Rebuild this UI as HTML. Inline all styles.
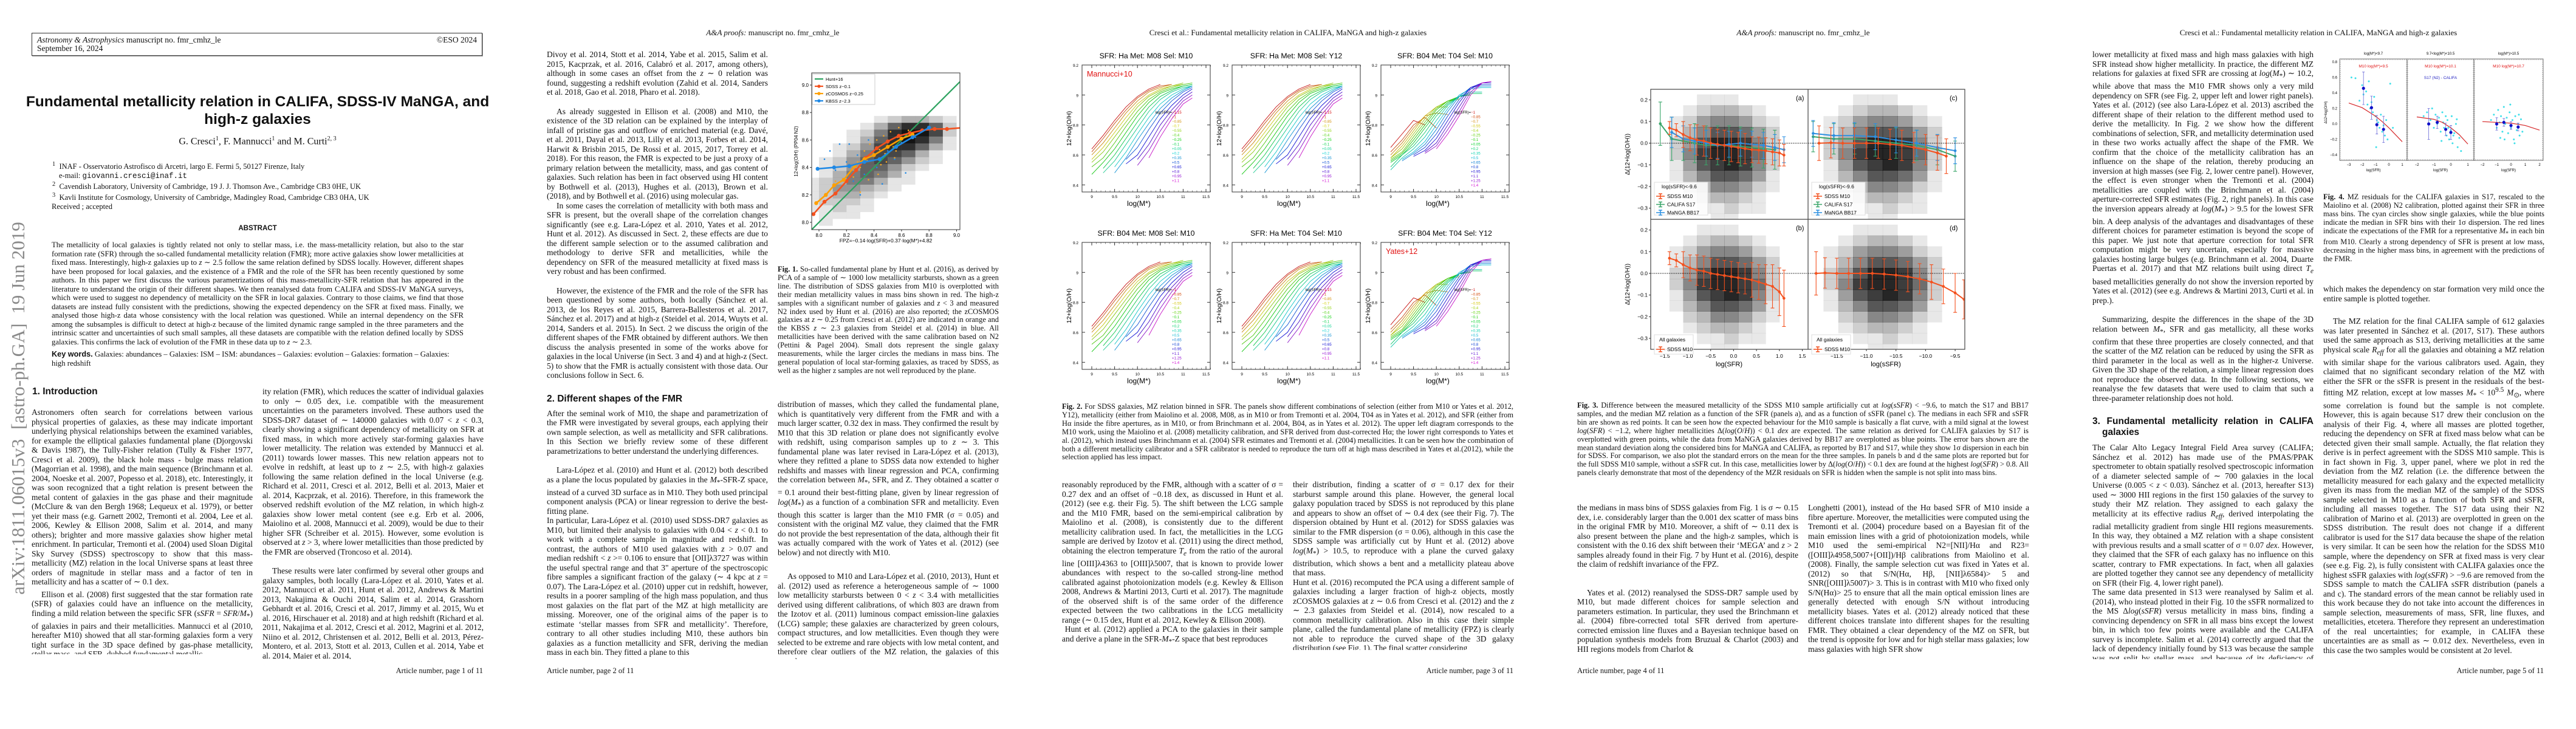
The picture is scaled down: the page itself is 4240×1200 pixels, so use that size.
<!DOCTYPE html>
<html><head><meta charset="utf-8">
<style>
*{margin:0;padding:0;box-sizing:border-box}
body{width:4240px;height:1200px;background:#fff;position:relative;overflow:hidden;font-family:"Liberation Serif",serif;color:#111}
.page{position:absolute;top:0;width:848px;height:1200px;overflow:hidden}
.abs{position:absolute}
.col{position:absolute;width:364px;font-size:13.5px;line-height:15.5px;text-align:justify;overflow:hidden;hyphens:auto}
.col p{text-indent:0}
.col p.ind{text-indent:16px}
.gap{margin-top:16px}
.hdr{position:absolute;top:46px;left:0;width:848px;text-align:center;font-size:13px}
.pnum{position:absolute;top:1097px;font-size:12.5px}
h2{font-family:"Liberation Sans",sans-serif;font-size:15.5px;font-weight:bold;line-height:18px}
.cap{position:absolute;font-size:12.4px;line-height:13.9px;text-align:justify;overflow:hidden}
svg text{font-family:"Liberation Sans",sans-serif}
</style></head><body>

<!-- PAGE 1 -->
<div class="page" style="left:0">
 <div class="abs" style="left:52px;top:54px;width:742px;height:38px;border:1.3px solid #333;box-shadow:1px 1px 0 #aaa;font-size:13.5px;line-height:14px;padding:4px 8px">
  <div><i>Astronomy &amp; Astrophysics</i> manuscript no. fmr_cmhz_le<span style="float:right">©ESO 2024</span></div>
  <div>September 16, 2024</div>
 </div>
 <div class="abs" style="left:40px;top:153px;width:768px;text-align:center;font-family:'Liberation Sans',sans-serif;font-weight:bold;font-size:24.5px;line-height:29px">Fundamental metallicity relation in CALIFA, SDSS-IV MaNGA, and high-z galaxies</div>
 <div class="abs" style="left:0;top:223px;width:848px;text-align:center;font-size:16px">G. Cresci<sup style="font-size:10px">1</sup>, F. Mannucci<sup style="font-size:10px">1</sup> and M. Curti<sup style="font-size:10px">2, 3</sup></div>
 <div class="abs" style="left:86px;top:264px;font-size:12.5px;line-height:14.5px">
  <div><sup>1</sup>&nbsp; INAF - Osservatorio Astrofisco di Arcetri, largo E. Fermi 5, 50127 Firenze, Italy</div>
  <div style="padding-left:11px">e-mail: <span style="font-family:'Liberation Mono',monospace">giovanni.cresci@inaf.it</span></div>
  <div><sup>2</sup>&nbsp; Cavendish Laboratory, University of Cambridge, 19 J. J. Thomson Ave., Cambridge CB3 0HE, UK</div>
  <div><sup>3</sup>&nbsp; Kavli Institute for Cosmology, University of Cambridge, Madingley Road, Cambridge CB3 0HA, UK</div>
 </div>
 <div class="abs" style="left:85px;top:333px;font-size:12.5px">Received ; accepted</div>
 <div class="abs" style="left:0;top:370px;width:848px;text-align:center;font-family:'Liberation Sans',sans-serif;font-weight:bold;font-size:11.5px">ABSTRACT</div>
 <div class="abs" style="left:85px;top:396px;width:678px;font-size:12.7px;line-height:14.5px;text-align:justify">The metallicity of local galaxies is tightly related not only to stellar mass, i.e. the mass-metallicity relation, but also to the star formation rate (SFR) through the so-called fundamental metallicity relation (FMR); more active galaxies show lower metallicities at fixed mass. Interestingly, high-z galaxies up to <i>z</i> ∼ 2.5 follow the same relation defined by SDSS locally. However, different shapes have been proposed for local galaxies, and the existence of a FMR and the role of the SFR has been recently questioned by some authors. In this paper we first discuss the various parametrizations of this mass-metallicity-SFR relation that has appeared in the literature to understand the origin of their different shapes. We then reanalysed data from CALIFA and SDSS-IV MaNGA surveys, which were used to suggest no dependency of metallicity on the SFR in local galaxies. Contrary to those claims, we find that those datasets are instead fully consistent with the predictions, showing the expected dependency on the SFR at fixed mass. Finally, we analysed those high-z data whose consistency with the local relation was questioned. While an internal dependency on the SFR among the subsamples is difficult to detect at high-z because of the limited dynamic range sampled in the three parameters and the intrinsic scatter and uncertainties of such small samples, all these datasets are compatible with the relation defined locally by SDSS galaxies. This confirms the lack of evolution of the FMR in these data up to <i>z</i> ∼ 2.3.</div>
 <div class="abs" style="left:85px;top:576px;width:678px;font-size:12.7px;line-height:14.5px"><b style="font-family:'Liberation Sans',sans-serif">Key words.</b> Galaxies: abundances – Galaxies: ISM – ISM: abundances – Galaxies: evolution – Galaxies: formation – Galaxies: high redshift</div>
 <div class="abs" style="left:30px;top:672px;width:0;height:0"><div style="position:absolute;left:-330px;top:-18px;width:660px;text-align:center;transform:rotate(-90deg);font-size:31px;color:#8a8a8a;white-space:nowrap">arXiv:1811.06015v3 &nbsp;[astro-ph.GA] &nbsp;19 Jun 2019</div></div>
 <h2 class="abs" style="left:53px;top:636px">1. Introduction</h2>
 <div class="col" style="left:52px;top:671px;height:406px">
  <p>Astronomers often search for correlations between various physical properties of galaxies, as these may indicate important underlying physical relationships between the examined variables, for example the elliptical galaxies fundamental plane (Djorgovski &amp; Davis 1987), the Tully-Fisher relation (Tully &amp; Fisher 1977, Cresci et al. 2009), the black hole mass - bulge mass relation (Magorrian et al. 1998), and the main sequence (Brinchmann et al. 2004, Noeske et al. 2007, Popesso et al. 2018), etc. Interestingly, it was soon recognized that a tight relation is present between the metal content of galaxies in the gas phase and their magnitude (McClure &amp; van den Bergh 1968; Lequeux et al. 1979), or better yet their mass (e.g. Garnett 2002, Tremonti et al. 2004, Lee et al. 2006, Kewley &amp; Ellison 2008, Salim et al. 2014, and many others); brighter and more massive galaxies show higher metal enrichment. In particular, Tremonti et al. (2004) used Sloan Digital Sky Survey (SDSS) spectroscopy to show that this mass-metallicity (MZ) relation in the local Universe spans at least three orders of magnitude in stellar mass and a factor of ten in metallicity and has a scatter of ∼ 0.1 dex.</p>
  <p class="ind" style="margin-top:5px">Ellison et al. (2008) first suggested that the star formation rate (SFR) of galaxies could have an influence on the metallicity, finding a mild relation between the specific SFR (<i>sSFR</i> = <i>SFR</i>/<i>M</i><sub>*</sub>) of galaxies in pairs and their metallicities. Mannucci et al (2010, hereafter M10) showed that all star-forming galaxies form a very tight surface in the 3D space defined by gas-phase metallicity, stellar mass, and SFR, dubbed fundamental metallic-</p>
 </div>
 <div class="col" style="left:432px;top:637px;height:448px">
  <p>ity relation (FMR), which reduces the scatter of individual galaxies to only ∼ 0.05 dex, i.e. compatible with the measurement uncertainties on the parameters involved. These authors used the SDSS-DR7 dataset of ∼ 140000 galaxies with 0.07 &lt; <i>z</i> &lt; 0.3, clearly showing a significant dependency of metallicity on SFR at fixed mass, in which more actively star-forming galaxies have lower metallicity. The relation was extended by Mannucci et al. (2011) towards lower masses. This new relation appears not to evolve in redshift, at least up to <i>z</i> ∼ 2.5, with high-z galaxies following the same relation defined in the local Universe (e.g. Richard et al. 2011, Cresci et al. 2012, Belli et al. 2013, Maier et al. 2014, Kacprzak, et al. 2016). Therefore, in this framework the observed redshift evolution of the MZ relation, in which high-z galaxies show lower metal content (see e.g. Erb et al. 2006, Maiolino et al. 2008, Mannucci et al. 2009), would be due to their higher SFR (Schreiber et al. 2015). However, some evolution is observed at <i>z</i> &gt; 3, where lower metallicities than those predicted by the FMR are observed (Troncoso et al. 2014).</p>
  <p class="ind gap">These results were later confirmed by several other groups and galaxy samples, both locally (Lara-López et al. 2010, Yates et al. 2012, Mannucci et al. 2011, Hunt et al. 2012, Andrews &amp; Martini 2013, Nakajima &amp; Ouchi 2014, Salim et al. 2014, Grasshorn Gebhardt et al. 2016, Cresci et al. 2017, Jimmy et al. 2015, Wu et al. 2016, Hirschauer et al. 2018) and at high redshift (Richard et al. 2011, Nakajima et al. 2012, Cresci et al. 2012, Magrini et al. 2012, Niino et al. 2012, Christensen et al. 2012, Belli et al. 2013, Pérez-Montero, et al. 2013, Stott et al. 2013, Cullen et al. 2014, Yabe et al. 2014, Maier et al. 2014,</p>
 </div>
 <div class="pnum" style="right:53px">Article number, page 1 of 11</div>
</div>

<!-- PAGE 2 -->
<div class="page" style="left:848px">
 <div class="hdr"><i>A&amp;A proofs:</i> manuscript no. fmr_cmhz_le</div>
 <div class="col" style="left:52px;top:82px;height:1003px">
  <p>Divoy et al. 2014, Stott et al. 2014, Yabe et al. 2015, Salim et al. 2015, Kacprzak, et al. 2016, Calabró et al. 2017, among others), although in some cases an offset from the <i>z</i> ∼ 0 relation was found, suggesting a redshift evolution (Zahid et al. 2014, Sanders et al. 2018, Gao et al. 2018, Pharo et al. 2018).</p>
  <p class="ind gap">As already suggested in Ellison et al. (2008) and M10, the existence of the 3D relation can be explained by the interplay of infall of pristine gas and outflow of enriched material (e.g. Davé, et al. 2011, Dayal et al. 2013, Lilly et al. 2013, Forbes et al. 2014, Harwit &amp; Brisbin 2015, De Rossi et al. 2015, 2017, Torrey et al. 2018). For this reason, the FMR is expected to be just a proxy of a primary relation between the metallicity, mass, and gas content of galaxies. Such relation has been in fact observed using HI content by Bothwell et al. (2013), Hughes et al. (2013), Brown et al. (2018), and by Bothwell et al. (2016) using molecular gas.</p>
  <p class="ind">In some cases the correlation of metallicity with both mass and SFR is present, but the overall shape of the correlation changes significantly (see e.g. Lara-López et al. 2010, Yates et al. 2012, Hunt et al. 2012). As discussed in Sect. 2, these effects are due to the different sample selection or to the assumed calibration and methodology to derive SFR and metallicities, while the dependency on SFR of the measured metallicity at fixed mass is very robust and has been confirmed.</p>
  <p class="ind gap">However, the existence of the FMR and the role of the SFR has been questioned by some authors, both locally (Sánchez et al. 2013, de los Reyes et al. 2015, Barrera-Ballesteros et al. 2017, Sánchez et al. 2017) and at high-z (Steidel et al. 2014, Wuyts et al. 2014, Sanders et al. 2015). In Sect. 2 we discuss the origin of the different shapes of the FMR obtained by different authors. We then discuss the analysis presented in some of the works above for galaxies in the local Universe (in Sect. 3 and 4) and at high-z (Sect. 5) to show that the FMR is actually consistent with those data. Our conclusions follow in Sect. 6.</p>
  <h2 style="margin-top:22px;margin-bottom:7px">2. Different shapes of the FMR</h2>
  <p>After the seminal work of M10, the shape and parametrization of the FMR were investigated by several groups, each applying their own sample selection, as well as metallicity and SFR calibrations. In this Section we briefly review some of these different parametrizations to better understand the underlying differences.</p>
  <p class="ind gap">Lara-López et al. (2010) and Hunt et al. (2012) both described as a plane the locus populated by galaxies in the <i>M</i><sub>*</sub>-SFR-Z space, instead of a curved 3D surface as in M10. They both used principal component analysis (PCA) or linear regression to derive the best-fitting plane.<br>In particular, Lara-López et al. (2010) used SDSS-DR7 galaxies as M10, but limited their analysis to galaxies with 0.04 &lt; <i>z</i> &lt; 0.1 to work with a complete sample in magnitude and redshift. In contrast, the authors of M10 used galaxies with <i>z</i> &gt; 0.07 and median redshift &lt; <i>z</i> &gt;= 0.106 to ensure that [OII]λ3727 was within the useful spectral range and that 3" aperture of the spectroscopic fibre samples a significant fraction of the galaxy (∼ 4 kpc at <i>z</i> = 0.07). The Lara-López et al. (2010) upper cut in redshift, however, results in a poorer sampling of the high mass population, and thus most galaxies on the flat part of the MZ at high metallicity are missing. Moreover, one of the original aims of the paper is to estimate ‘stellar masses from SFR and metallicity’. Therefore, contrary to all other studies including M10, these authors bin galaxies as a function metallicity and SFR, deriving the median mass in each bin. They fitted a plane to this</p>
 </div>
 <div class="cap" style="left:432px;top:437px;width:364px;height:185px"><b>Fig. 1.</b> So-called fundamental plane by Hunt et al. (2016), as derived by PCA of a sample of ∼ 1000 low metallicity starbursts, shown as a green line. The distribution of SDSS galaxies from M10 is overplotted with their median metallicity values in mass bins shown in red. The high-z samples with a significant number of galaxies and <i>z</i> &lt; 3 and measured N2 index used by Hunt et al. (2016) are also reported; the zCOSMOS galaxies at <i>z</i> ∼ 0.25 from Cresci et al. (2012) are indicated in orange and the KBSS <i>z</i> ∼ 2.3 galaxies from Steidel et al. (2014) in blue. All metallicities have been derived with the same calibration based on N2 (Pettini &amp; Pagel 2004). Small dots represent the single galaxy measurements, while the larger circles the medians in mass bins. The general population of local star-forming galaxies, as traced by SDSS, as well as the higher z samples are not well reproduced by the plane.</div>
 <div class="col" style="left:432px;top:658px;height:427px">
  <p>distribution of masses, which they called the fundamental plane, which is quantitatively very different from the FMR and with a much larger scatter, 0.32 dex in mass. They confirmed the result by M10 that this 3D relation or plane does not significantly evolve with redshift, using comparison samples up to <i>z</i> ∼ 3. This fundamental plane was later revised in Lara-López et al. (2013), where they refitted a plane to SDSS data now extended to higher redshifts and masses with linear regression and PCA, confirming the correlation between <i>M</i><sub>*</sub>, SFR, and Z. They obtained a scatter σ = 0.1 around their best-fitting plane, given by linear regression of <i>log</i>(<i>M</i><sub>*</sub>) as a function of a combination SFR and metallicity. Even though this scatter is larger than the M10 FMR (σ = 0.05) and consistent with the original MZ value, they claimed that the FMR do not provide the best representation of the data, although their fit was actually compared with the work of Yates et al. (2012) (see below) and not directly with M10.</p>
  <p class="ind" style="margin-top:24px">As opposed to M10 and Lara-López et al. (2010, 2013), Hunt et al. (2012) used as reference a heterogeneous sample of ∼ 1000 low metallicity starbursts between 0 &lt; <i>z</i> &lt; 3.4 with metallicities derived using different calibrations, of which 803 are drawn from the Izotov et al. (2011) luminous compact emission-line galaxies (LCG) sample; these galaxies are characterized by green colours, compact structures, and low metallicities. Even though they were selected to be extreme and rare objects with low metal content, and therefore clear outliers of the MZ relation, the galaxies of this sample are</p>
 </div>
 <div class="pnum" style="left:52px">Article number, page 2 of 11</div>
 <svg id="fig1" class="abs" style="left:0;top:0" width="848" height="1200"></svg>
</div>

<!-- PAGE 3 -->
<div class="page" style="left:1696px">
 <div class="hdr">Cresci et al.: Fundamental metallicity relation in CALIFA, MaNGA and high-z galaxies</div>
 <svg id="fig2" class="abs" style="left:0;top:0" width="848" height="1200"></svg>
 <div class="cap" style="left:52px;top:663px;width:743px;height:100px"><b>Fig. 2.</b> For SDSS galaxies, MZ relation binned in SFR. The panels show different combinations of selection (either from M10 or Yates et al. 2012, Y12), metallicity (either from Maiolino et al. 2008, M08, as in M10 or from Tremonti et al. 2004, T04 as in Yates et al. 2012), and SFR (either from Hα inside the fibre apertures, as in M10, or from Brinchmann et al. 2004, B04, as in Yates et al. 2012). The upper left diagram corresponds to the M10 work, using the Maiolino et al. (2008) metallicity calibration, and SFR derived from dust-corrected Hα; the lower right corresponds to Yates et al. (2012), which instead uses Brinchmann et al. (2004) SFR estimates and Tremonti et al. (2004) metallicities. It can be seen how the combination of both a different metallicity calibrator and a SFR calibrator is needed to reproduce the turn off at high mass described in Yates et al.(2012), while the selection applied has less impact.</div>
 <div class="col" style="left:52px;top:790px;height:280px">
  <p>reasonably reproduced by the FMR, although with a scatter of σ = 0.27 dex and an offset of −0.18 dex, as discussed in Hunt et al. (2012) (see e.g. their Fig. 5). The shift between the LCG sample and the M10 FMR, based on the semi-empirical calibration by Maiolino et al. (2008), is consistently due to the different metallicity calibration used. In fact, the metallicities in the LCG sample are derived by Izotov et al. (2011) using the direct method, obtaining the electron temperature <i>T<sub>e</sub></i> from the ratio of the auroral line [OIII]λ4363 to [OIII]λ5007, that is known to provide lower abundances with respect to the so-called strong-line method calibrated against photoionization models (e.g. Kewley &amp; Ellison 2008, Andrews &amp; Martini 2013, Curti et al. 2017). The magnitude of the observed shift is of the same order of the difference expected between the two calibrations in the LCG metallicity range (∼ 0.15 dex, Hunt et al. 2012, Kewley &amp; Ellison 2008).<br>&nbsp;Hunt et al. (2012) applied a PCA to the galaxies in their sample and derive a plane in the SFR-<i>M</i><sub>*</sub>-Z space that best reproduces</p>
 </div>
 <div class="col" style="left:432px;top:790px;height:280px">
  <p>their distribution, finding a scatter of σ = 0.17 dex for their starburst sample around this plane. However, the general local galaxy population traced by SDSS is not reproduced by this plane and appears to show an offset of ∼ 0.4 dex (see their Fig. 7). The dispersion obtained by Hunt et al. (2012) for SDSS galaxies was similar to the FMR dispersion (σ = 0.06), although in this case the SDSS sample was artificially cut by Hunt et al. (2012) above <i>log</i>(<i>M</i><sub>*</sub>) &gt; 10.5, to reproduce with a plane the curved galaxy distribution, which shows a bent and a metallicity plateau above that mass.<br>Hunt et al. (2016) recomputed the PCA using a different sample of galaxies including a larger fraction of high-z objects, mostly zCOSMOS galaxies at <i>z</i> ∼ 0.6 from Cresci et al. (2012) and the <i>z</i> ∼ 2.3 galaxies from Steidel et al. (2014), now rescaled to a common metallicity calibration. Also in this case their simple plane, called the fundamental plane of metallicity (FPZ) is clearly not able to reproduce the curved shape of the 3D galaxy distribution (see Fig. 1). The final scatter considering</p>
 </div>
 <div class="pnum" style="right:53px">Article number, page 3 of 11</div>
</div>

<!-- PAGE 4 -->
<div class="page" style="left:2544px">
 <div class="hdr"><i>A&amp;A proofs:</i> manuscript no. fmr_cmhz_le</div>
 <svg id="fig3" class="abs" style="left:0;top:0" width="848" height="1200"></svg>
 <div class="cap" style="left:52px;top:661px;width:743px;height:140px"><b>Fig. 3.</b> Difference between the measured metallicity of the SDSS M10 sample artificially cut at <i>log</i>(<i>sSFR</i>) &lt; −9.6, to match the S17 and BB17 samples, and the median MZ relation as a function of the SFR (panels a), and as a function of sSFR (panel c). The medians in each SFR and sSFR bin are shown as red points. It can be seen how the expected behaviour for the M10 sample is basically a flat curve, with a mild signal at the lowest <i>log</i>(<i>SFR</i>) &lt; −1.2, where higher metallicities Δ(<i>log</i>(<i>O</i>/<i>H</i>)) &lt; 0.1 <i>dex</i> are expected. The same relation as derived for CALIFA galaxies by S17 is overplotted with green points, while the data from MaNGA galaxies derived by BB17 are overplotted as blue points. The error bars shown are the mean standard deviation along the considered bins for MaNGA and CALIFA, as reported by B17 and S17, while they show 1σ dispersion in each bin for SDSS. For comparison, we also plot the standard errors on the mean for the three samples. In panels b and d the same plots are reported but for the full SDSS M10 sample, without a sSFR cut. In this case, metallicities lower by Δ(<i>log</i>(<i>O</i>/<i>H</i>)) &lt; 0.1 dex are found at the highest <i>log</i>(<i>SFR</i>) &gt; 0.8. All panels clearly demonstrate that most of the dependency of the MZR residuals on SFR is hidden when the sample is not split into mass bins.</div>
 <div class="col" style="left:52px;top:828px;height:257px">
  <p>the medians in mass bins of SDSS galaxies from Fig. 1 is σ ∼ 0.15 dex, i.e. considerably larger than the 0.001 dex scatter of mass bins in the original FMR by M10. Moreover, a shift of ∼ 0.11 dex is also present between the plane and the high-z samples, which is consistent with the 0.16 dex shift between their ‘MEGA’ and <i>z</i> &gt; 2 samples already found in their Fig. 7 by Hunt et al. (2016), despite the claim of redshift invariance of the FPZ.</p>
  <p class="ind" style="margin-top:31px">Yates et al. (2012) reanalysed the SDSS-DR7 sample used by M10, but made different choices for sample selection and parameters estimation. In particular, they used the Brinchmann et al. (2004) fibre-corrected total SFR derived from aperture-corrected emission line fluxes and a Bayesian technique based on population synthesis models from Bruzual &amp; Charlot (2003) and HII regions models from Charlot &amp;</p>
 </div>
 <div class="col" style="left:432px;top:828px;height:257px">
  <p>Longhetti (2001), instead of the Hα based SFR of M10 inside a fibre aperture. Moreover, the metallicities were computed using the Tremonti et al. (2004) procedure based on a Bayesian fit of the main emission lines with a grid of photoionization models, while M10 used the semi-empirical N2=[NII]/Hα and R23=([OIII]λ4958,5007+[OII])/Hβ calibrations from Maiolino et al. (2008). Finally, the sample selection cut was fixed in Yates et al. (2012) so that S/N(Hα, Hβ, [NII]λ6584)&gt; 5 and SNR([OIII]λ5007)&gt; 3. This is in contrast with M10 who fixed only S/N(Hα)&gt; 25 to ensure that all the main optical emission lines are generally detected with enough S/N without introducing metallicity biases. Yates et al. (2012) already noticed that these different choices translate into different shapes for the resulting FMR. They obtained a clear dependency of the MZ on SFR, but the trend is opposite for low and for high stellar mass galaxies; low mass galaxies with high SFR show</p>
 </div>
 <div class="pnum" style="left:52px">Article number, page 4 of 11</div>
</div>

<!-- PAGE 5 -->
<div class="page" style="left:3392px">
 <div class="hdr">Cresci et al.: Fundamental metallicity relation in CALIFA, MaNGA and high-z galaxies</div>
 <div class="col" style="left:52px;top:82px;height:1003px">
  <p>lower metallicity at fixed mass and high mass galaxies with high SFR instead show higher metallicity. In practice, the different MZ relations for galaxies at fixed SFR are crossing at <i>log</i>(<i>M</i><sub>*</sub>) ∼ 10.2, while above that mass the M10 FMR shows only a very mild dependency on SFR (see Fig. 2, upper left and lower right panels). Yates et al. (2012) (see also Lara-López et al. 2013) ascribed the different shape of their relation to the different method used to derive the metallicity. In Fig. 2 we show how the different combinations of selection, SFR, and metallicity determination used in these two works actually affect the shape of the FMR. We confirm that the choice of the metallicity calibration has an influence on the shape of the relation, thereby producing an inversion at high masses (see Fig. 2, lower centre panel). However, the effect is even stronger when the Tremonti et al. (2004) metallicities are coupled with the Brinchmann et al. (2004) aperture-corrected SFR estimates (Fig. 2, right panels). In this case the inversion appears already at <i>log</i>(<i>M</i><sub>*</sub>) &gt; 9.5 for the lowest SFR bin. A deep analysis of the advantages and disadvantages of these different choices for parameter estimation is beyond the scope of this paper. We just note that aperture correction for total SFR computation might be very uncertain, especially for massive galaxies hosting large bulges (e.g. Brinchmann et al. 2004, Duarte Puertas et al. 2017) and that MZ relations built using direct <i>T<sub>e</sub></i> based metallicities generally do not show the inversion reported by Yates et al. (2012) (see e.g. Andrews &amp; Martini 2013, Curti et al. in prep.).</p>
  <p class="ind gap">Summarizing, despite the differences in the shape of the 3D relation between <i>M</i><sub>*</sub>, SFR and gas metallicity, all these works confirm that these three properties are closely connected, and that the scatter of the MZ relation can be reduced by using the SFR as third parameter in the local as well as in the higher-z Universe. Given the 3D shape of the relation, a simple linear regression does not reproduce the observed data. In the following sections, we reanalyse the few datasets that were used to claim that such a three-parameter relationship does not hold.</p>
  <h2 style="margin-top:22px;margin-bottom:8px;padding-left:16px;text-indent:-16px">3. Fundamental metallicity relation in CALIFA galaxies</h2>
  <p>The Calar Alto Legacy Integral Field Area survey (CALIFA; Sánchez et al. 2012) has made use of the PMAS/PPAK spectrometer to obtain spatially resolved spectroscopic information of a diameter selected sample of ∼ 700 galaxies in the local Universe (0.005 &lt; <i>z</i> &lt; 0.03). Sánchez et al. (2013, hereafter S13) used ∼ 3000 HII regions in the first 150 galaxies of the survey to study their MZ relation. They assigned to each galaxy the metallicity at its effective radius <i>R<sub>eff</sub></i>, derived interpolating the radial metallicity gradient from single HII regions measurements. In this way, they obtained a MZ relation with a shape consistent with previous results and a small scatter of σ = 0.07 <i>dex</i>. However, they claimed that the SFR of each galaxy has no influence on this scatter, contrary to FMR expectations. In fact, when all galaxies are plotted together they cannot see any dependency of metallicity on SFR (their Fig. 4, lower right panel).<br>The same data presented in S13 were reanalysed by Salim et al. (2014), who instead plotted in their Fig. 10 the sSFR normalized to the MS Δ<i>log</i>(<i>sSFR</i>) versus metallicity in mass bins, finding a convincing dependency on SFR in all mass bins except the lowest bin, in which too few points were available and the CALIFA survey is incomplete. Salim et al. (2014) correctly argued that the lack of dependency initially found by S13 was because the sample was not split by stellar mass, and because of its deficiency of extreme star formers and large fraction of low sSFR targets,</p>
 </div>
 <svg id="fig4" class="abs" style="left:0;top:0" width="848" height="1200"></svg>
 <div class="cap" style="left:432px;top:318px;width:364px;height:112px"><b>Fig. 4.</b> MZ residuals for the CALIFA galaxies in S17, rescaled to the Maiolino et al. (2008) N2 calibration, plotted against their SFR in three mass bins. The cyan circles show single galaxies, while the blue points indicate the median in SFR bins with their 1σ dispersion. The red lines indicate the expectations of the FMR for a representative <i>M</i><sub>*</sub> in each bin from M10. Clearly a strong dependency of SFR is present at low mass, decreasing in the higher mass bins, in agreement with the predictions of the FMR.</div>
 <div class="col" style="left:432px;top:468px;height:617px">
  <p>which makes the dependency on star formation very mild once the entire sample is plotted together.</p>
  <p class="ind" style="margin-top:22px">The MZ relation for the final CALIFA sample of 612 galaxies was later presented in Sánchez et al. (2017, S17). These authors used the same approach as S13, deriving metallicities at the same physical scale <i>R<sub>eff</sub></i> for all the galaxies and obtaining a MZ relation with similar shape for the various calibrators used. Again, they claimed that no significant secondary relation of the MZ with either the SFR or the sSFR is present in the residuals of the best-fitting MZ relation, except at low masses <i>M</i><sub>*</sub> &lt; 10<sup>9.5</sup> <i>M</i><sub>⊙</sub>, where some correlation is found but the sample is not complete. However, this is again because S17 drew their conclusion on the analysis of their Fig. 4, where all masses are plotted together, reducing the dependency on SFR at fixed mass below what can be detected given their small sample. Actually, the flat relation they derive is in perfect agreement with the SDSS M10 sample. This is in fact shown in Fig. 3, upper panel, where we plot in red the deviation from the MZ relation (i.e. the difference between the metallicity measured for each galaxy and the expected metallicity given its mass from the median MZ of the sample) of the SDSS sample selected in M10 as a function of both SFR and sSFR, including all masses together. The S17 data using their N2 calibration of Marino et al. (2013) are overplotted in green on the SDSS distribution. The result does not change if a different calibrator is used for the S17 data because the shape of the relation is very similar. It can be seen how the relation for the SDSS M10 sample, where the dependency on SFR at fixed mass is very clear (see e.g. Fig. 2), is fully consistent with CALIFA galaxies once the highest sSFR galaxies with <i>log</i>(<i>sSFR</i>) &gt; −9.6 are removed from the SDSS sample to match the CALIFA sSFR distribution (panels a and c). The standard errors of the mean cannot be reliably used in this work because they do not take into account the differences in sample selection, measurements of mass, SFR, line fluxes, and metallicities, etcetera. Therefore they represent an underestimation of the real uncertainties; for example, in CALIFA these uncertainties are as small as ∼ 0.012 dex. Nevertheless, even in this case the two samples would be consistent at 2σ level.</p>
 </div>
 <div class="pnum" style="right:53px">Article number, page 5 of 11</div>
</div>

<script>
const NS='http://www.w3.org/2000/svg';
function mk(tag,attrs,parent){const e=document.createElementNS(NS,tag);for(const k in attrs)e.setAttribute(k,attrs[k]);parent.appendChild(e);return e;}
function txt(s,attrs,parent){const e=mk('text',attrs,parent);e.textContent=s;return e;}

/* ================= FIGURE 1 data ================= */
const f1Ticks=[8.0,8.2,8.4,8.6,8.8,9.0];
const f1SdssX=[7.96,8.04,8.12,8.20,8.27,8.34,8.42,8.50,8.58,8.66,8.75,8.84,8.93,9.05];
const f1SdssY=[8.06,8.15,8.21,8.30,8.38,8.47,8.54,8.59,8.63,8.65,8.67,8.68,8.68,8.69];
const f1ZcosX=[7.98,8.05,8.11,8.18,8.26,8.33,8.40,8.50,8.60,8.68];
const f1ZcosY=[8.14,8.20,8.27,8.31,8.41,8.46,8.49,8.55,8.61,8.64];
const f1KbssX=[7.99,8.11,8.22,8.33,8.44,8.56,8.68,8.80];
const f1KbssY=[8.39,8.40,8.41,8.44,8.46,8.55,8.62,8.69];
const f1DotsOrX=[8.12,8.18,8.22,8.25,8.28,8.30,8.33,8.35,8.37,8.38,8.40,8.42,8.44,8.45,8.47,8.48,8.50,8.52,8.54,8.55,8.57,8.58,8.60,8.62,8.65,8.30,8.36,8.43,8.49,8.56];
const f1DotsOrY=[8.30,8.28,8.36,8.33,8.44,8.40,8.52,8.45,8.57,8.38,8.49,8.60,8.53,8.42,8.63,8.50,8.58,8.66,8.55,8.47,8.62,8.69,8.58,8.64,8.67,8.22,8.31,8.35,8.44,8.52];
const f1DotsBlX=[8.04,8.08,8.12,8.15,8.20,8.25,8.28,8.33,8.36,8.42,8.46,8.50,8.55,8.60,8.63,8.70,8.30,8.22];
const f1DotsBlY=[8.46,8.52,8.38,8.57,8.44,8.30,8.49,8.35,8.60,8.40,8.28,8.52,8.46,8.58,8.36,8.62,8.20,8.57];
const f1HeatX=[7.95,8.05,8.15,8.25,8.35,8.45,8.55,8.65,8.75,8.85,8.95];
const f1HeatY=[8.75,8.70,8.65,8.60,8.55,8.50,8.45,8.40,8.35,8.30,8.25,8.20,8.15,8.10,8.05,8.00];
const f1Heat=[
[0,0,0,0,0,1,2,3,3,2,1],
[0,0,0,0,1,3,6,8,8,6,2],
[0,0,0,1,2,5,8,9,9,7,2],
[0,0,0,1,3,6,8,9,8,5,1],
[0,0,1,2,4,7,8,8,6,3,1],
[0,0,1,3,5,7,7,6,3,1,0],
[0,1,2,4,6,7,6,4,2,1,0],
[0,1,2,4,6,6,4,2,1,0,0],
[0,1,3,5,6,5,3,1,0,0,0],
[1,2,3,5,5,3,1,1,0,0,0],
[1,2,4,4,3,2,1,0,0,0,0],
[1,2,3,3,2,1,0,0,0,0,0],
[1,2,2,2,1,0,0,0,0,0,0],
[1,1,2,1,1,0,0,0,0,0,0],
[0,1,1,1,0,0,0,0,0,0,0],
[0,1,0,0,0,0,0,0,0,0,0]];
const f1Legend=['Hunt+16','SDSS z~0.1','zCOSMOS z~0.25','KBSS z~2.3'];

(function(){
 const s=document.getElementById('fig1');
 const fx=v=>500+(v-8.0)*226.5, fy=v=>366-(v-8.0)*226;
 const L=488,R=732,T=120,B=378;
 const defs=mk('defs',{},s);const cp=mk('clipPath',{id:'c1'},defs);mk('rect',{x:L,y:T,width:R-L,height:B-T},cp);
 const g=mk('g',{'clip-path':'url(#c1)'},s);
 f1HeatY.forEach((yv,i)=>f1HeatX.forEach((xv,j)=>{const d=f1Heat[i][j];if(!d)return;
  const r=mk('rect',{x:fx(xv-0.05),y:fy(yv+0.025),width:22.7,height:11.4,fill:'#000','fill-opacity':(d/9*0.92).toFixed(2)},g);
  
  }));
 f1DotsOrX.forEach((x,i)=>{const c=mk('circle',{cx:fx(x),cy:fy(f1DotsOrY[i]),r:1.3,fill:'#f5a623'},g);
  
  });
 f1DotsBlX.forEach((x,i)=>{const c=mk('circle',{cx:fx(x),cy:fy(f1DotsBlY[i]),r:1.3,fill:'#1e88e5'},g);
  
  });
 const hl=mk('line',{x1:fx(7.9),y1:fy(7.9),x2:fx(9.2),y2:fy(9.2),stroke:'#2ca25f','stroke-width':2.2},g);
 
 
 const series=[[f1SdssX,f1SdssY,'#f4511e','sdss-median-line'],[f1ZcosX,f1ZcosY,'#ffa000','zcosmos-median-line'],[f1KbssX,f1KbssY,'#1e88e5','kbss-median-line']];
 series.forEach(([X,Y,col,name])=>{
  const p=mk('polyline',{points:X.map((x,i)=>fx(x)+','+fy(Y[i])).join(' '),fill:'none',stroke:col,'stroke-width':2.6},g);
  
  
  X.forEach((x,i)=>{const c=mk('circle',{cx:fx(x),cy:fy(Y[i]),r:3.2,fill:col},g);
   
   });
 });
 const box=mk('rect',{x:L,y:T,width:R-L,height:B-T,fill:'none',stroke:'#333','stroke-width':1},s);
 
 
 f1Ticks.forEach(v=>{
  mk('line',{x1:fx(v),y1:B,x2:fx(v),y2:B+3,stroke:'#333'},s);
  const t=txt(v.toFixed(1),{x:fx(v),y:B+12,'font-size':8,'text-anchor':'middle'},s);
  
  
  mk('line',{x1:L-3,y1:fy(v),x2:L,y2:fy(v),stroke:'#333'},s);
  const u=txt(v.toFixed(1),{x:L-5,y:fy(v)+3,'font-size':8,'text-anchor':'end'},s);
  
  
 });
 const xl=txt('FPZ=−0.14·log(SFR)+0.37·log(M*)+4.82',{x:610,y:399,'font-size':8.5,'text-anchor':'middle'},s);
 
 
 const yl=txt('12+log(O/H) (PP04 N2)',{x:0,y:0,'font-size':8,'text-anchor':'middle',transform:'translate(465,249) rotate(-90)'},s);
 
 
 const lg=mk('rect',{x:489,y:122,width:103,height:50,fill:'#fff','fill-opacity':0.85,stroke:'#ccc'},s);
 
 
 const lcol=['#2ca25f','#f4511e','#ffa000','#1e88e5'];
 f1Legend.forEach((n,i)=>{const y=130+i*12;
  mk('line',{x1:493,y1:y,x2:507,y2:y,stroke:lcol[i],'stroke-width':2.2},s);
  if(i)mk('circle',{cx:500,cy:y,r:2.6,fill:lcol[i]},s);
  const t=txt(n,{x:511,y:y+3,'font-size':7.5},s);
  
  });
})();

/* ================= FIGURE 2 data ================= */
const f2Mass=[9.0,9.25,9.5,9.75,10.0,10.25,10.5,10.75,11.0,11.2];
const f2CurvesA=[
[8.64,8.73,8.83,8.92,8.99,9.04,9.07,null,null,null],
[8.62,8.71,8.81,8.90,8.98,9.03,9.06,9.07,null,null],
[8.60,8.68,8.78,8.88,8.96,9.02,9.05,9.07,null,null],
[8.57,8.65,8.75,8.85,8.94,9.00,9.04,9.06,9.07,null],
[8.55,8.62,8.72,8.82,8.92,8.99,9.03,9.06,9.08,null],
[8.52,8.58,8.68,8.79,8.89,8.97,9.02,9.05,9.07,9.08],
[8.47,8.55,8.64,8.75,8.86,8.95,9.01,9.04,9.06,9.07],
[null,8.51,8.60,8.71,8.82,8.92,8.99,9.03,9.06,9.07],
[null,8.48,8.56,8.67,8.78,8.89,8.97,9.02,9.05,9.06],
[null,null,8.52,8.62,8.74,8.85,8.94,9.00,9.04,9.06],
[null,null,8.48,8.58,8.70,8.81,8.91,8.98,9.03,9.06],
[null,null,null,8.57,8.65,8.77,8.88,8.96,9.02,9.05],
[null,null,null,8.54,8.60,8.72,8.84,8.93,9.00,9.04],
[null,null,null,null,8.57,8.67,8.80,8.90,8.98,9.02],
[null,null,null,null,8.53,8.63,8.76,8.87,8.96,9.00],
[null,null,null,null,null,8.58,8.72,8.84,8.94,8.98]];
const f2CurvesB=[
[8.65,8.74,8.83,8.80,null,null,null,null,null,null],
[8.62,8.70,8.80,8.85,8.78,null,null,null,null,null],
[8.60,8.68,8.78,8.86,8.88,8.87,null,null,null,null],
[8.58,8.66,8.76,8.86,8.92,8.92,null,null,null,null],
[8.58,8.64,8.74,8.84,8.92,8.96,8.97,null,null,null],
[8.57,8.62,8.72,8.82,8.91,8.96,8.98,null,null,null],
[8.56,8.61,8.70,8.80,8.90,8.96,8.99,9.00,null,null],
[8.55,8.60,8.68,8.78,8.88,8.95,8.99,9.00,null,null],
[8.52,8.60,8.66,8.75,8.86,8.94,8.99,9.01,9.01,null],
[8.50,8.58,8.64,8.72,8.83,8.93,8.99,9.02,9.02,null],
[null,8.57,8.62,8.69,8.80,8.91,9.00,9.04,9.05,9.05],
[null,8.56,8.61,8.67,8.77,8.89,8.99,9.05,9.06,9.06],
[null,null,8.60,8.65,8.74,8.86,8.97,9.05,9.07,9.07],
[null,null,8.59,8.63,8.71,8.83,8.95,9.05,9.08,9.08],
[null,null,null,8.62,8.68,8.80,8.92,9.04,9.08,9.09],
[null,null,null,8.61,8.66,8.77,8.89,9.02,9.08,9.09],
[null,null,null,null,8.64,8.74,8.86,9.00,9.08,9.09]];
const f2BinsA=['−1.15','−1','−0.85','−0.7','−0.55','−0.4','−0.25','−0.1','+0.05','+0.2','+0.35','+0.5','+0.65','+0.8','+0.95','+1.1'];
const f2BinsB=['−1','−0.85','−0.7','−0.55','−0.4','−0.25','−0.1','+0.05','+0.2','+0.35','+0.5','+0.65','+0.8','+0.95','+1.1','+1.25','+1.4'];
const f2Titles=['SFR: Ha Met: M08 Sel: M10','SFR: Ha Met: M08 Sel: Y12','SFR: B04 Met: T04 Sel: M10','SFR: B04 Met: M08 Sel: M10','SFR: Ha Met: T04 Sel: M10','SFR: B04 Met: T04 Sel: Y12'];
const f2XTicks=[9,9.5,10,10.5,11,11.5];
const f2YTicks=[8.4,8.6,8.8,9,9.2];

(function(){
 const s=document.getElementById('fig2');
 const xs=[85,332,577], ys=[107,399], W=211, H=209;
 const panelData=[f2CurvesA,f2CurvesA,f2CurvesB,f2CurvesA,f2CurvesA,f2CurvesB];
 const panelBins=[f2BinsA,f2BinsA,f2BinsB,f2BinsB,f2BinsA,f2BinsB];
 const notes=['Mannucci+10','','','','','Yates+12'];
 for(let p=0;p<6;p++){
  const x0=xs[p%3], y0=ys[Math.floor(p/3)];
  const fx=v=>x0+16+(v-9)*75.2, fy=v=>y0+(9.2-v)*246.7;
  const ti=txt(f2Titles[p],{x:x0+W/2,y:y0-11,'font-size':12.3,'text-anchor':'middle'},s);
  
  
  const fr=mk('rect',{x:x0,y:y0,width:W,height:H,fill:'none',stroke:'#333','stroke-width':1},s);
  
  
  f2XTicks.forEach(v=>{mk('line',{x1:fx(v),y1:y0+H,x2:fx(v),y2:y0+H-5,stroke:'#333'},s);mk('line',{x1:fx(v),y1:y0,x2:fx(v),y2:y0+5,stroke:'#333'},s);
   const t=txt(String(v),{x:fx(v),y:y0+H+10,'font-size':6.5,'text-anchor':'middle','font-family':'Liberation Serif'},s);
   
   });
  for(let m=9;m<11.6;m+=0.1){mk('line',{x1:fx(m),y1:y0+H,x2:fx(m),y2:y0+H-2.5,stroke:'#333','stroke-width':0.6},s);mk('line',{x1:fx(m),y1:y0,x2:fx(m),y2:y0+2.5,stroke:'#333','stroke-width':0.6},s);}
  f2YTicks.forEach(v=>{mk('line',{x1:x0,y1:fy(v),x2:x0+5,y2:fy(v),stroke:'#333'},s);mk('line',{x1:x0+W,y1:fy(v),x2:x0+W-5,y2:fy(v),stroke:'#333'},s);
   const t=txt(String(v),{x:x0-6,y:fy(v)+3,'font-size':6.5,'text-anchor':'end','font-family':'Liberation Serif'},s);
   
   });
  const xl=txt('log(M*)',{x:x0+W/2-12,y:y0+H+23,'font-size':12,'text-anchor':'middle','font-family':'Liberation Serif'},s);
  
  
  const yl=txt('12+log(O/H)',{x:0,y:0,'font-size':10.5,'text-anchor':'middle','font-family':'Liberation Serif',transform:`translate(${x0-18},${y0+H/2}) rotate(-90)`},s);
  
  
  const C=panelData[p], n=C.length;
  C.forEach((row,k)=>{const hue=Math.round(k*300/(n-1));const col=`hsl(${hue},85%,${hue>180&&hue<260?45:42}%)`;
   const pts=[];row.forEach((v,i)=>{if(v!==null)pts.push(fx(f2Mass[i])+','+fy(v));});
   const pl=mk('polyline',{points:pts.join(' '),fill:'none',stroke:col,'stroke-width':0.9},s);
   
   });
  const B=panelBins[p], nb=B.length;
  const lh=txt('log(SFR)=',{x:x0+148,y:y0+80,'font-size':6,'text-anchor':'end','font-family':'Liberation Serif'},s);
  
  
  B.forEach((b,k)=>{const hue=Math.round(k*300/(nb-1));
   const t=txt(b,{x:x0+148,y:y0+80+k*7.5,'font-size':6.2,fill:`hsl(${hue},85%,45%)`,'font-family':'Liberation Serif'},s);
   
   });
  if(notes[p]){const t=txt(notes[p],{x:x0+8,y:y0+19,'font-size':12.5,fill:'#e01010'},s);
   
   }
 }
})();

/* ================= FIGURE 3 data ================= */
const f3HeatRows=[0.20,0.15,0.10,0.05,0.00,-0.05,-0.10,-0.15,-0.20,-0.25,-0.30,-0.35];
const f3Heat=[
[0,0,0,1,1,1,0,0,0,0],
[0,0,1,2,3,3,2,1,0,0],
[0,1,2,4,5,5,4,2,1,0],
[0,1,3,5,7,7,6,4,2,0],
[0,2,4,7,9,9,8,5,2,0],
[0,2,5,8,9,9,8,6,2,0],
[0,1,4,7,8,9,8,5,2,0],
[0,1,3,5,7,7,6,4,1,0],
[0,0,2,3,5,5,4,2,1,0],
[0,0,1,2,3,3,2,1,0,0],
[0,0,0,1,1,2,1,1,0,0],
[0,0,0,0,1,1,0,0,0,0]];
const f3HeatSfrX=[-1.55,-1.25,-0.95,-0.65,-0.35,-0.05,0.25,0.55,0.85,1.15];
const f3HeatSsfrX=[-11.85,-11.6,-11.35,-11.1,-10.85,-10.6,-10.35,-10.1,-9.85,-9.6];
const f3SfrTicks=[-1.5,-1.0,-0.5,0.0,0.5,1.0,1.5];
const f3SsfrTicks=[-11.5,-11.0,-10.5,-10.0,-9.5];
const f3YTicks=[0.2,0.1,0.0,-0.1,-0.2,-0.3];
const f3aRedX=[-1.4,-1.25,-1.1,-0.95,-0.8,-0.65,-0.5,-0.35,-0.2,-0.05,0.1,0.25,0.4,0.55,0.7,0.85,1.0,1.1];
const f3aRedY=[0.07,0.06,0.04,0.025,0.015,0.01,0.0,-0.005,-0.01,-0.015,-0.02,-0.025,-0.03,-0.032,-0.035,-0.04,-0.045,-0.055];
const f3aRedE=[0.03,0.03,0.06,0.06,0.07,0.07,0.07,0.07,0.07,0.07,0.07,0.07,0.06,0.06,0.06,0.06,0.06,0.05];
const f3aGreenX=[-1.6,-1.35,-1.1,-0.85,-0.6,-0.35,-0.1,0.15,0.4,0.65,0.9];
const f3aGreenY=[0.09,0.02,0.01,0.0,-0.01,-0.01,-0.01,-0.015,-0.02,-0.025,-0.03];
const f3aGreenE=[0.1,0.1,0.09,0.09,0.09,0.09,0.09,0.09,0.09,0.09,0.09];
const f3aBlueX=[-1.35,-1.1,-0.85,-0.6,-0.35,-0.1,0.15,0.4,0.65,0.9,1.1];
const f3aBlueY=[0.05,0.02,0.01,0.0,-0.01,-0.005,0.0,-0.005,-0.01,-0.02,-0.03];
const f3aBlueE=[0.07,0.06,0.06,0.06,0.06,0.06,0.06,0.06,0.06,0.06,0.06];
const f3bRedY=[0.07,0.06,0.04,0.025,0.015,0.01,0.0,-0.005,-0.01,-0.015,-0.02,-0.025,-0.03,-0.04,-0.05,-0.06,-0.085,-0.115];
const f3bRedE=[0.03,0.03,0.06,0.06,0.07,0.07,0.07,0.07,0.07,0.07,0.07,0.07,0.08,0.08,0.09,0.1,0.11,0.13];
const f3cRedX=[-11.8,-11.6,-11.4,-11.2,-11.0,-10.8,-10.6,-10.4,-10.2,-10.0,-9.8,-9.65];
const f3cRedY=[0.0,0.002,0.0,0.0,0.0,0.0,-0.005,-0.01,-0.02,-0.03,-0.045,-0.06];
const f3cRedE=[0.08,0.07,0.07,0.07,0.07,0.07,0.07,0.07,0.07,0.07,0.08,0.08];
const f3cGreenX=[-11.9,-11.55,-11.2,-10.85,-10.5,-10.15,-9.8,-9.5];
const f3cGreenY=[0.03,0.02,0.02,0.01,0.0,-0.01,-0.03,-0.06];
const f3cGreenE=[0.07,0.07,0.07,0.07,0.07,0.07,0.07,0.07];
const f3cBlueX=[-11.9,-11.55,-11.2,-10.85,-10.5,-10.15,-9.8,-9.5];
const f3cBlueY=[0.045,0.035,0.035,0.03,0.015,0.0,-0.02,-0.035];
const f3cBlueE=[0.06,0.06,0.06,0.06,0.06,0.06,0.06,0.06];
const f3dRedX=[-11.85,-11.7,-11.5,-11.3,-11.1,-10.9,-10.7,-10.5,-10.3,-10.1,-9.9,-9.7,-9.5,-9.35];
const f3dRedY=[0.0,0.002,0.0,0.0,0.0,0.0,-0.003,-0.008,-0.015,-0.025,-0.04,-0.06,-0.09,-0.12];
const f3dRedE=[0.1,0.07,0.07,0.07,0.07,0.07,0.07,0.07,0.07,0.07,0.08,0.08,0.09,0.09];

(function(){
 const s=document.getElementById('fig3');
 const fxA=v=>234+(v+1.0)*75.4, fxB=v=>528+(v+11.0)*97.4;
 const fyR=(v,r)=>235.7-v*356.7+r*214.3;
 const L=173,M=432,R=690,T=147,H=214;
 const defs=mk('defs',{},s);
 [[L,0],[M,0],[L,1],[M,1]].forEach(([x,r],i)=>{const c=mk('clipPath',{id:'c3'+i},defs);mk('rect',{x:x,y:T+r*H,width:(x===L?M-L:R-M),height:H},c);});
 const panels=[[fxA,0,f3HeatSfrX,0.3],[fxB,0,f3HeatSsfrX,0.25],[fxA,1,f3HeatSfrX,0.3],[fxB,1,f3HeatSsfrX,0.25]];
 panels.forEach(([fx,r,HX,dx],pi)=>{
  const g=mk('g',{'clip-path':`url(#c3${pi})`},s);
  f3HeatRows.forEach((yv,i)=>HX.forEach((xv,j)=>{const d=f3Heat[i][j];if(!d)return;
   const x1=fx(xv-dx/2),x2=fx(xv+dx/2);
   const c=mk('rect',{x:x1,y:fyR(yv+0.025,r),width:x2-x1+0.5,height:18.3,fill:'#000','fill-opacity':(d/9*0.85).toFixed(2)},g);
   
   }));
  mk('line',{x1:(fx===fxA?L:M),y1:fyR(0,r),x2:(fx===fxA?M:R),y2:fyR(0,r),stroke:'#000','stroke-width':1,'stroke-dasharray':'1.5,1.5'},g);
 });
 function series(X,Y,E,fx,r,col,name,cl){
  const g=mk('g',{'clip-path':`url(#c3${cl})`},s);
  X.forEach((x,i)=>{const px=fx(x);const a=fyR(Y[i]+E[i],r),b=fyR(Y[i]-E[i],r);
   const eb=mk('path',{d:`M${px},${a}V${b}M${px-3},${a}H${px+3}M${px-3},${b}H${px+3}`,stroke:col,'stroke-width':1.1,fill:'none'},g);
   
   });
  const pl=mk('polyline',{points:X.map((x,i)=>fx(x)+','+fyR(Y[i],r)).join(' '),fill:'none',stroke:col,'stroke-width':2},g);
  
  
  X.forEach((x,i)=>{const c=mk('circle',{cx:fx(x),cy:fyR(Y[i],r),r:2.3,fill:col},g);
   
   });
 }
 const RED='#f4511e',GRN='#3aa66a',BLU='#2c8fe0';
 series(f3aGreenX,f3aGreenY,f3aGreenE,fxA,0,GRN,'califa-s17',0);
 series(f3aBlueX,f3aBlueY,f3aBlueE,fxA,0,BLU,'manga-bb17',0);
 series(f3aRedX,f3aRedY,f3aRedE,fxA,0,RED,'sdss-m10',0);
 series(f3cGreenX,f3cGreenY,f3cGreenE,fxB,0,GRN,'califa-s17',1);
 series(f3cBlueX,f3cBlueY,f3cBlueE,fxB,0,BLU,'manga-bb17',1);
 series(f3cRedX,f3cRedY,f3cRedE,fxB,0,RED,'sdss-m10',1);
 series(f3aRedX,f3bRedY,f3bRedE,fxA,1,RED,'sdss-m10-all',2);
 series(f3dRedX,f3dRedY,f3dRedE,fxB,1,RED,'sdss-m10-all',3);
 const f=mk('rect',{x:L,y:T,width:R-L,height:2*H,fill:'none',stroke:'#444','stroke-width':1.2},s);
 
 
 mk('line',{x1:M,y1:T,x2:M,y2:T+2*H,stroke:'#444','stroke-width':1.2},s);
 mk('line',{x1:L,y1:T+H,x2:R,y2:T+H,stroke:'#444','stroke-width':1.2},s);
 [0,1].forEach(r=>{f3YTicks.forEach(v=>{mk('line',{x1:L-3,y1:fyR(v,r),x2:L,y2:fyR(v,r),stroke:'#333'},s);
  const t=txt(v.toFixed(1).replace('-','−'),{x:L-5,y:fyR(v,r)+3,'font-size':8.5,'text-anchor':'end'},s);
  
  });
  const yl=txt('Δ(12+log(O/H))',{x:0,y:0,'font-size':10,'text-anchor':'middle',transform:`translate(138,${T+r*H+H/2}) rotate(-90)`},s);
  
  });
 f3SfrTicks.forEach(v=>{mk('line',{x1:fxA(v),y1:T+2*H,x2:fxA(v),y2:T+2*H+3,stroke:'#333'},s);
  const t=txt(v.toFixed(1).replace('-','−'),{x:fxA(v),y:T+2*H+14,'font-size':8.5,'text-anchor':'middle'},s);
  
  });
 f3SsfrTicks.forEach(v=>{mk('line',{x1:fxB(v),y1:T+2*H,x2:fxB(v),y2:T+2*H+3,stroke:'#333'},s);
  const t=txt(v.toFixed(1).replace('-','−'),{x:fxB(v),y:T+2*H+14,'font-size':8.5,'text-anchor':'middle'},s);
  
  });
 const x1=txt('log(SFR)',{x:302,y:603,'font-size':11,'text-anchor':'middle'},s);
 
 
 const x2=txt('log(sSFR)',{x:560,y:603,'font-size':11,'text-anchor':'middle'},s);
 
 
 [['(a)',412,165],['(c)',665,165],['(b)',412,379],['(d)',665,379]].forEach(([l,x,y])=>{const t=txt(l,{x,y,'font-size':11},s);
  
  });
 [L+6,M+6].forEach(x=>{
  const b=mk('rect',{x:x,y:300,width:88,height:54,fill:'#fff','fill-opacity':0.85,stroke:'#ddd'},s);
  
  
  txt('log(sSFR)<-9.6',{x:x+12,y:310,'font-size':8.5},s);
  [['SDSS M10',RED],['CALIFA S17',GRN],['MaNGA BB17',BLU]].forEach(([n,c],i)=>{const y=323+i*13.5;
   mk('path',{d:`M${x+3},${y}H${x+17}M${x+10},${y-4}V${y+4}M${x+7},${y-4}H${x+13}M${x+7},${y+4}H${x+13}`,stroke:c,'stroke-width':1.5},s);
   const t=txt(n,{x:x+21,y:y+3,'font-size':8.5},s);
   
   });
  const b2=mk('rect',{x:x,y:T+H+190,width:64,height:32,fill:'#fff','fill-opacity':0.85,stroke:'#ddd'},s);
  
  
  txt('All galaxies',{x:x+8,y:T+H+201,'font-size':8.5},s);
  const y=T+H+214;
  mk('path',{d:`M${x+3},${y}H${x+17}M${x+10},${y-4}V${y+4}M${x+7},${y-4}H${x+13}M${x+7},${y+4}H${x+13}`,stroke:RED,'stroke-width':1.5},s);
  const t=txt('SDSS M10',{x:x+21,y:y+3,'font-size':8.5},s);
  
  
 });
})();

/* ================= FIGURE 4 data ================= */
const f4Titles=['log(M*)<9.7','9.7<log(M*)<10.5','log(M*)>10.5'];
const f4Notes=['M10 log(M*)=9.5','M10 log(M*)=10.1','M10 log(M*)=10.7'];
const f4YTicks=[0.8,0.6,0.4,0.2,0.0,-0.2,-0.4];
const f4P1Ticks=[-3,-2,-1,0,1], f4P2Ticks=[-2,-1,0,1], f4P3Ticks=[-2,-1,0,1,2];
const f4MedX1=[-1.9,-1.3,-0.9,-0.4], f4MedY1=[0.46,0.21,-0.01,-0.07], f4MedE1=[0.21,0.15,0.12,0.17];
const f4MedX2=[-1.3,-0.8,-0.3,0.0], f4MedY2=[0.0,0.02,-0.07,-0.11], f4MedE2=[0.2,0.08,0.08,0.09];
const f4MedX3=[-1.0,-0.5,0.0,0.5], f4MedY3=[0.0,0.02,-0.02,-0.04], f4MedE3=[0.08,0.05,0.05,0.05];
const f4FmrX1=[-3,-2,-1,-0.5,0,1], f4FmrY1=[0.27,0.21,0.1,0.03,-0.05,-0.23];
const f4FmrX2=[-2,-1,-0.5,0,0.5,1], f4FmrY2=[0.09,0.06,0.02,-0.05,-0.14,-0.26];
const f4FmrX3=[-2,-1,0,1,2], f4FmrY3=[0.03,0.02,0.01,-0.02,-0.08];
const f4DotsX1=[-2.8,-2.5,-2.2,-2.0,-1.9,-1.7,-1.6,-1.4,-1.3,-1.2,-1.1,-1.0,-0.9,-0.8,-0.7,-0.6,-0.5,-0.4,-0.3,-0.2,-0.1,0.1,0.3,-1.5,-0.95];
const f4DotsY1=[0.6,0.59,0.3,0.5,0.38,0.42,0.25,0.2,0.28,0.15,0.35,0.1,0.05,0.02,-0.05,0.12,-0.1,-0.02,-0.15,0.05,-0.2,0.52,-0.05,0.55,-0.3];
const f4DotsX2=[-1.6,-1.4,-1.2,-1.1,-1.0,-0.9,-0.8,-0.7,-0.6,-0.5,-0.45,-0.4,-0.3,-0.25,-0.2,-0.1,0.0,0.05,0.1,0.2,0.3,0.4,0.5,0.6,-0.55,-0.15,0.15,0.35];
const f4DotsY2=[0.1,0.15,0.05,0.2,-0.05,0.12,0.0,0.08,-0.1,0.15,0.02,-0.05,0.1,-0.15,0.05,-0.2,-0.08,0.1,-0.25,-0.12,0.0,-0.3,-0.18,-0.35,-0.22,-0.05,-0.15,0.06];
const f4DotsX3=[-1.4,-1.2,-1.0,-0.9,-0.8,-0.7,-0.6,-0.5,-0.4,-0.3,-0.2,-0.1,0.0,0.1,0.2,0.3,0.4,0.5,0.6,0.7,0.8,-0.45,-0.05,0.25,0.55,-0.75];
const f4DotsY3=[0.05,0.12,-0.05,0.18,0.02,0.1,-0.1,0.22,0.0,0.08,-0.12,0.15,-0.05,0.05,-0.2,0.1,-0.08,0.0,-0.15,0.06,-0.1,-0.2,0.25,-0.25,0.12,-0.18];

(function(){
 const s=document.getElementById('fig4');
 const T=97,B=264;
 const fy=v=>204-v*127.5;
 const P=[[459,570,v=>474+(v+3)*22,f4P1Ticks,f4DotsX1,f4DotsY1,f4MedX1,f4MedY1,f4MedE1,f4FmrX1,f4FmrY1],
          [570,680,v=>586+(v+2)*28,f4P2Ticks,f4DotsX2,f4DotsY2,f4MedX2,f4MedY2,f4MedE2,f4FmrX2,f4FmrY2],
          [680,794,v=>694+(v+2)*23.5,f4P3Ticks,f4DotsX3,f4DotsY3,f4MedX3,f4MedY3,f4MedE3,f4FmrX3,f4FmrY3]];
 const defs=mk('defs',{},s);
 P.forEach(([l,r,fx,ticks,dx,dy,mx,my,me,rx,ry],i)=>{
  const cp=mk('clipPath',{id:'c4'+i},defs);mk('rect',{x:l,y:T,width:r-l,height:B-T},cp);
  const g=mk('g',{'clip-path':`url(#c4${i})`},s);
  dx.forEach((x,k)=>{const c=mk('circle',{cx:fx(x),cy:fy(dy[k]),r:1.5,fill:'#3fe0ea'},g);
   
   });
  const fl=mk('polyline',{points:rx.map((x,k)=>fx(x)+','+fy(ry[k])).join(' '),fill:'none',stroke:'#d62728','stroke-width':1.2},g);
  
  
  mx.forEach((x,k)=>{const px=fx(x);
   const e=mk('path',{d:`M${px},${fy(my[k]+me[k])}V${fy(my[k]-me[k])}M${px-2},${fy(my[k]+me[k])}H${px+2}M${px-2},${fy(my[k]-me[k])}H${px+2}`,stroke:'#6a6ad8','stroke-width':0.8,fill:'none'},g);
   
   
   const c=mk('circle',{cx:px,cy:fy(my[k]),r:2.6,fill:'#1010c8'},g);
   
   });
  const fr=mk('rect',{x:l,y:T,width:r-l,height:B-T,fill:'none',stroke:'#555','stroke-width':0.8},s);
  
  
  for(let y=T;y<=B;y+=3.2){mk('line',{x1:l,y1:y,x2:l+2,y2:y,stroke:'#777','stroke-width':0.5},s);mk('line',{x1:r,y1:y,x2:r-2,y2:y,stroke:'#777','stroke-width':0.5},s);}
  for(let x=l;x<=r;x+=2.8){mk('line',{x1:x,y1:T,x2:x,y2:T+2,stroke:'#777','stroke-width':0.5},s);mk('line',{x1:x,y1:B,x2:x,y2:B-2,stroke:'#777','stroke-width':0.5},s);}
  ticks.forEach(v=>{const t=txt(String(v).replace('-','−'),{x:fx(v),y:B+9,'font-size':6,'text-anchor':'middle'},s);
   
   });
  const xl=txt('log(SFR)',{x:(l+r)/2,y:B+18,'font-size':6,'text-anchor':'middle'},s);
  
  
  const ti=txt(f4Titles[i],{x:(l+r)/2,y:T-7,'font-size':6,'text-anchor':'middle'},s);
  
  
  const nt=txt(f4Notes[i],{x:(l+r)/2,y:T+14,'font-size':6.5,'text-anchor':'middle',fill:'#e01010'},s);
  
  
 });
 const s17=txt('S17 (N2) - CALIFA',{x:625,y:130,'font-size':6.5,'text-anchor':'middle',fill:'#2020c0'},s);
 
 
 f4YTicks.forEach(v=>{const t=txt(v.toFixed(1).replace('-','−'),{x:455,y:fy(v)+2,'font-size':6,'text-anchor':'end'},s);
  
  });
 const yl=txt('Δ12+log(O/H)',{x:0,y:0,'font-size':6,'text-anchor':'middle',transform:'translate(438,185) rotate(-90)'},s);
 
 
})();
</script>
</body></html>
